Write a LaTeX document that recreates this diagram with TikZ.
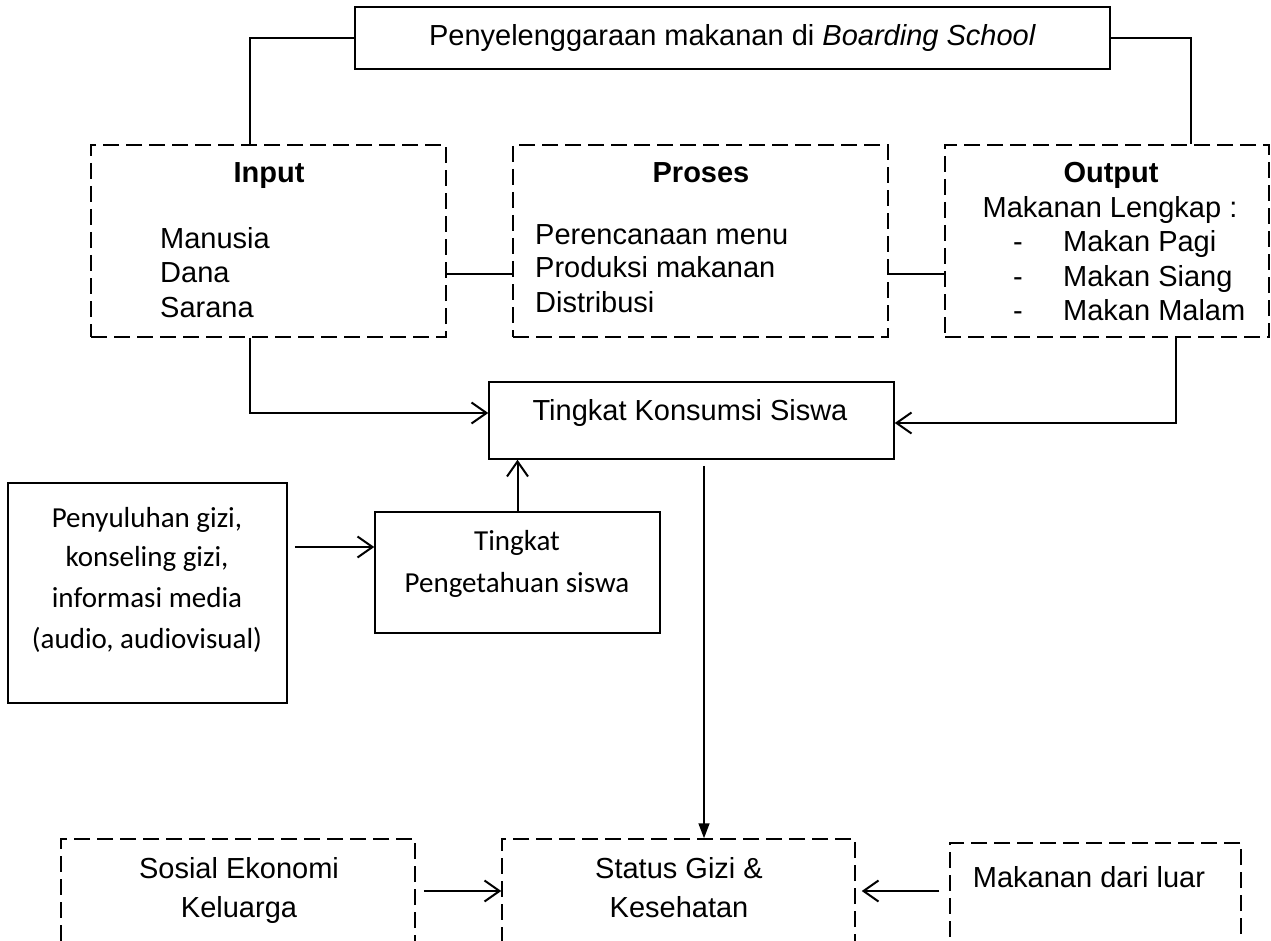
\documentclass[tikz,border=0pt]{standalone}
\usepackage{fontspec}
\setmainfont{Liberation Sans}
\newfontfamily\calibri{Carlito}
\usetikzlibrary{arrows.meta}
\newcommand\fz{\fontsize{29}{34}\selectfont}
\begin{document}
\begin{tikzpicture}[x=1pt,y=-1pt,
  solidbox/.style={draw, line width=1.5pt, rectangle, inner sep=0pt},
  dashbox/.style={draw, line width=1.5pt, dash pattern=on 16pt off 7pt, rectangle, inner sep=0pt},
  conn/.style={line width=1.6pt},
  arr/.style={line width=2pt, -{Straight Barb[length=15pt,width=21pt]}},
  farr/.style={line width=1.6pt, -{Triangle[length=15pt,width=11pt]}},
  txt/.style={inner sep=0pt, anchor=base, font=\fz},
  txtl/.style={inner sep=0pt, anchor=base west, font=\fz},
  ctxt/.style={inner sep=0pt, anchor=base, font=\fz\calibri}]
\useasboundingbox (0,0) rectangle (1271,941);
% boxes
\node[solidbox, minimum width=755pt, minimum height=62pt, font=\fz] (top) at (732.5,38) {Penyelenggaraan makanan di \textit{Boarding School}};
\node[dashbox, minimum width=355pt, minimum height=192pt] (input) at (268.5,241) {};
\node[dashbox, minimum width=375pt, minimum height=192pt] (proses) at (700.5,241) {};
\node[dashbox, minimum width=324pt, minimum height=192pt] (output) at (1107,241) {};
\node[solidbox, minimum width=405pt, minimum height=77pt] (konsumsi) at (691.5,420.5) {};
\node[solidbox, minimum width=279pt, minimum height=220pt] (penyuluhan) at (147.5,593) {};
\node[solidbox, minimum width=285pt, minimum height=121pt] (pengetahuan) at (517.5,572.5) {};
\node[dashbox, minimum width=354pt, minimum height=103pt] (sosial) at (238,890.5) {};
\node[dashbox, minimum width=353pt, minimum height=103pt] (status) at (678.5,890.5) {};
\node[dashbox, minimum width=291pt, minimum height=99pt] (luar) at (1095.5,892.5) {};
% texts
\node[txt, font=\fz\bfseries] (tin) at (269,183) {Input};
\node[txtl] (tin1) at (160,249) {Manusia};
\node[txtl] (tin2) at (160,283) {Dana};
\node[txtl] (tin3) at (160,317) {Sarana};
\node[txt, font=\fz\bfseries] (tpr) at (701,183) {Proses};
\node[txtl] (tpr1) at (535,245) {Perencanaan menu};
\node[txtl] (tpr2) at (535,278) {Produksi makanan};
\node[txtl] (tpr3) at (535,312) {Distribusi};
\node[txt, font=\fz\bfseries] (tou) at (1111,183) {Output};
\node[txt] (tou0) at (1110,218) {Makanan Lengkap :};
\node[txt] (d1) at (1018,252) {-};
\node[txt] (d2) at (1018,287) {-};
\node[txt] (d3) at (1018,320) {-};
\node[txtl] (tou1) at (1063,252) {Makan Pagi};
\node[txtl] (tou2) at (1063,287) {Makan Siang};
\node[txtl] (tou3) at (1063,320) {Makan Malam};
\node[txt] (tko) at (690,420) {Tingkat Konsumsi Siswa};
\node[ctxt] (tpe1) at (147,527) {Penyuluhan gizi,};
\node[ctxt] (tpe2) at (147,566) {konseling gizi,};
\node[ctxt] (tpe3) at (147,607) {informasi media};
\node[ctxt] (tpe4) at (147,648) {(audio, audiovisual)};
\node[ctxt] (tpg1) at (517,550) {Tingkat};
\node[ctxt] (tpg2) at (517,592) {Pengetahuan siswa};
\node[txt] (tso1) at (239,878) {Sosial Ekonomi};
\node[txt] (tso2) at (239,917) {Keluarga};
\node[txt] (tst1) at (679,878) {Status Gizi \&};
\node[txt] (tst2) at (679,917) {Kesehatan};
\node[txt] (tlu) at (1089,887) {Makanan dari luar};
% helper coordinates
\coordinate (xl) at (250,0);
\coordinate (xr) at (1191,0);
\coordinate (xo) at (1176,0);
\coordinate (xs) at (704,0);
\coordinate (ymid) at (0,274);
\coordinate (ya) at (0,413);
\coordinate (yb) at (0,423);
\coordinate (yc) at (0,547);
\coordinate (yd) at (0,891);
\coordinate (pa) at ([xshift=7pt]penyuluhan.east);
\coordinate (ks) at ([yshift=-6pt]konsumsi.south);
\coordinate (sa) at ([xshift=8pt]sosial.east);
\coordinate (la) at ([xshift=-10pt]luar.west);
\coordinate (sb) at ([xshift=6pt]status.east);
% connectors
\draw[conn] (top.west) -| (input.north -| xl);
\draw[conn] (top.east) -| (output.north -| xr);
\draw[conn] (input.east |- ymid) -- (proses.west |- ymid);
\draw[conn] (proses.east |- ymid) -- (output.west |- ymid);
\draw[arr] (input.south -| xl) |- (konsumsi.west |- ya);
\draw[arr] (output.south -| xo) |- (konsumsi.east |- yb);
\draw[arr] (pa |- yc) -- (pengetahuan.west |- yc);
\draw[arr] (pengetahuan.north) -- (konsumsi.south -| pengetahuan.north);
\draw[farr] (ks -| xs) -- (status.north -| xs);
\draw[arr] (sa |- yd) -- (status.west |- yd);
\draw[arr] (la |- yd) -- (sb |- yd);
\end{tikzpicture}
\end{document}
